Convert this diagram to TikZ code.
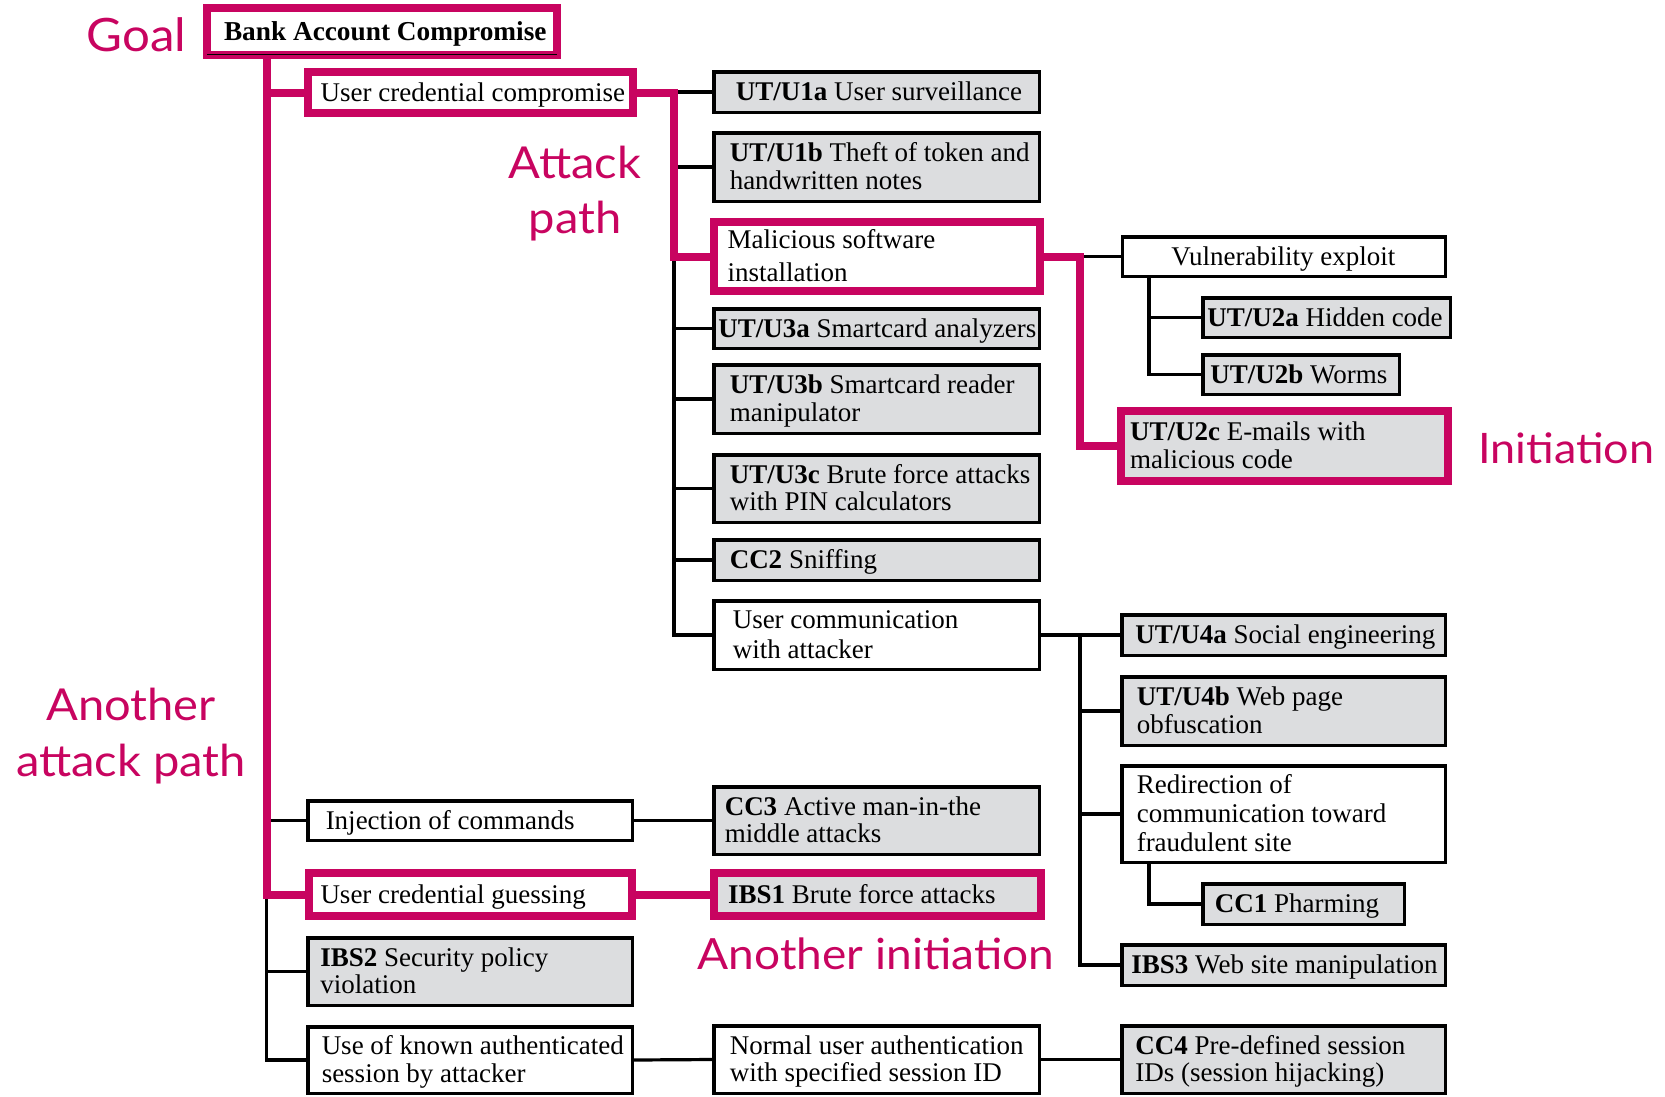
\documentclass[tikz,border=0pt]{standalone}
\usepackage{fontspec}
\setmainfont{Liberation Serif}
\newfontfamily\notefont[FakeStretch=1.07]{Lato}
\usetikzlibrary{calc}
\definecolor{hl}{RGB}{200,4,96}
\definecolor{boxgray}{RGB}{220,221,223}
% box text: width, left indent, lines
\newcommand{\bt}[3]{\makebox[#1][l]{\hspace*{#2}\raisebox{-3pt}[\height][\depth]{\begin{tabular}{@{}l@{}}#3\end{tabular}}}}
\begin{document}
\begin{tikzpicture}[x=1pt,y=-1pt,
  box/.style={draw=black, line width=3.5pt, fill=white, inner sep=0pt,
    font=\fontsize{27}{27.7}\selectfont},
  gbox/.style={box, fill=boxgray},
  hbox/.style={box, draw=hl, line width=8pt},
  hgbox/.style={hbox, fill=boxgray},
  wire/.style={line width=3.2pt, black},
  hwire/.style={line width=8pt, hl},
  note/.style={text=hl, inner sep=0pt, anchor=base}]
\useasboundingbox (0,0) rectangle (1665,1096);

% branch columns
\coordinate (t0) at (266.5,0);
\coordinate (c1) at (674,0);
\coordinate (c2) at (1080,0);
\coordinate (c3) at (1149,0);

% goal and first level
\node[hbox, minimum width=350pt, minimum height=47pt, font=\fontsize{27.3}{28}\selectfont] (bank) at (382,31.5)
  {\bt{350pt}{17pt}{\textbf{Bank Account Compromise}}};
\node[hbox, minimum width=325pt, minimum height=41pt] (ucc) at (470.5,92.5)
  {\bt{325pt}{12.7pt}{User credential compromise}};
\node[box, minimum width=324.5pt, minimum height=39.5pt] (inj) at (470,820.5)
  {\bt{324.5pt}{18pt}{Injection of commands}};
\node[hbox, minimum width=323.5pt, minimum height=43pt] (ucg) at (470.25,894.5)
  {\bt{323.5pt}{12pt}{User credential guessing}};
\node[gbox, minimum width=324.5pt, minimum height=67.5pt] (ibs2) at (470,971.5)
  {\bt{324.5pt}{12.7pt}{\textbf{IBS2} Security policy\\violation}};
\node[box, minimum width=324.5pt, minimum height=66.5pt] (usek) at (470,1060)
  {\bt{324.5pt}{14pt}{Use of known authenticated\\session by attacker}};

% second level
\node[gbox, minimum width=325.5pt, minimum height=40.5pt] (u1a) at (876.5,92)
  {\bt{325.5pt}{22pt}{\textbf{UT/U1a} User surveillance}};
\node[gbox, minimum width=325.5pt, minimum height=68.5pt] (u1b) at (876.5,167)
  {\bt{325.5pt}{16pt}{\textbf{UT/U1b} Theft of token and\\handwritten notes}};
\node[hbox, minimum width=325.5pt, minimum height=69pt] (mal) at (876.75,256.5)
  {\bt{325.5pt}{13.7pt}{Malicious software\\[6pt]installation}};
\node[gbox, minimum width=325.5pt, minimum height=39.5pt] (u3a) at (876.5,328.5)
  {\bt{325.5pt}{4.7pt}{\textbf{UT/U3a} Smartcard analyzers}};
\node[gbox, minimum width=325.5pt, minimum height=68.5pt] (u3b) at (876.5,399)
  {\bt{325.5pt}{16pt}{\textbf{UT/U3b} Smartcard reader\\manipulator}};
\node[gbox, minimum width=325.5pt, minimum height=67.5pt] (u3c) at (876.5,488.5)
  {\bt{325.5pt}{16pt}{\textbf{UT/U3c} Brute force attacks\\with PIN calculators}};
\node[gbox, minimum width=325.5pt, minimum height=40.5pt] (cc2) at (876.5,560)
  {\bt{325.5pt}{16pt}{\textbf{CC2} Sniffing}};
\node[box, minimum width=325.5pt, minimum height=68.5pt] (ucom) at (876.5,635)
  {\bt{325.5pt}{19pt}{User communication\\[2.5pt]with attacker}};
\node[gbox, minimum width=325.5pt, minimum height=67.5pt] (cc3) at (876.5,820.5)
  {\bt{325.5pt}{11pt}{\textbf{CC3} Active man-in-the\\middle attacks}};
\node[hgbox, minimum width=327pt, minimum height=43pt] (ibs1) at (877.5,894.5)
  {\bt{327pt}{14pt}{\textbf{IBS1} Brute force attacks}};
\node[box, minimum width=325.5pt, minimum height=67.5pt] (nua) at (876.5,1059.5)
  {\bt{325.5pt}{16pt}{Normal user authentication\\with specified session ID}};

% third level
\node[box, minimum width=323pt, minimum height=39.5pt] (vul) at (1283.75,256.5)
  {\bt{323pt}{49pt}{Vulnerability exploit}};
\node[gbox, minimum width=247.5pt, minimum height=39.5pt] (u2a) at (1326.5,317.5)
  {\bt{247.5pt}{4.5pt}{\textbf{UT/U2a} Hidden code}};
\node[gbox, minimum width=196.5pt, minimum height=39.5pt] (u2b) at (1301,374.5)
  {\bt{196.5pt}{7.5pt}{\textbf{UT/U2b} Worms}};
\node[hgbox, minimum width=327pt, minimum height=70pt] (u2c) at (1284.5,446)
  {\bt{327pt}{9pt}{\textbf{UT/U2c} E-mails with\\malicious code}};
\node[gbox, minimum width=323.5pt, minimum height=40.5pt] (u4a) at (1283.5,635)
  {\bt{323.5pt}{13.6pt}{\textbf{UT/U4a} Social engineering}};
\node[gbox, minimum width=323.5pt, minimum height=68.5pt] (u4b) at (1283.5,711)
  {\bt{323.5pt}{15pt}{\textbf{UT/U4b} Web page\\obfuscation}};
\node[box, minimum width=323.5pt, minimum height=96.5pt] (redir) at (1283.5,814)
  {\bt{323.5pt}{15pt}{Redirection of\\[1.5pt]communication toward\\[1.5pt]fraudulent site}};
\node[gbox, minimum width=201.5pt, minimum height=40.5pt] (cc1) at (1303.5,904)
  {\bt{201.5pt}{12pt}{\textbf{CC1} Pharming}};
\node[gbox, minimum width=323.5pt, minimum height=40.5pt] (ibs3) at (1283.5,965)
  {\bt{323.5pt}{9.7pt}{\textbf{IBS3} Web site manipulation}};
\node[gbox, minimum width=323.5pt, minimum height=67.5pt] (cc4) at (1283.5,1059.5)
  {\bt{323.5pt}{13.6pt}{\textbf{CC4} Pre-defined session\\IDs (session hijacking)}};

% dark rule along the inner bottom edge of the goal box
\draw[line width=1.3pt] ($(bank.south west)+(4.2,-4.6)$) -- ($(bank.south east)+(-4.2,-4.6)$);

% black tree connectors
\draw[wire] (ucg.west -| t0) |- (usek.west);
\draw[wire] (inj.west -| t0) -- (inj.west);
\draw[wire] (ibs2.west -| t0) -- (ibs2.west);
\draw[wire] (mal.west -| c1) |- (ucom.west);
\draw[wire] (u1a.west -| c1) -- (u1a.west);
\draw[wire] (u1b.west -| c1) -- (u1b.west);
\draw[wire] (u3a.west -| c1) -- (u3a.west);
\draw[wire] (u3b.west -| c1) -- (u3b.west);
\draw[wire] (u3c.west -| c1) -- (u3c.west);
\draw[wire] (cc2.west -| c1) -- (cc2.west);
\draw[wire] (mal.east -| c2) -- (vul.west);
\draw[wire] (vul.south -| c3) |- (u2b.west);
\draw[wire] (u2a.west -| c3) -- (u2a.west);
\draw[wire] (ucom.east) -- (u4a.west);
\draw[wire] (ucom.east -| c2) |- (ibs3.west);
\draw[wire] (u4b.west -| c2) -- (u4b.west);
\draw[wire] (redir.west -| c2) -- (redir.west);
\draw[wire] (redir.south -| c3) |- (cc1.west);
\draw[wire] (inj.east) -- (cc3.west);
\draw[wire] (usek.east) -- (nua.west);
\draw[wire] (nua.east) -- (cc4.west);

% highlighted attack paths
\draw[hwire] (bank.south -| t0) |- (ucg.west);
\draw[hwire] (ucc.west -| t0) -- (ucc.west);
\draw[hwire] (ucc.east) -| (c1 |- mal.west) -- (mal.west);
\draw[hwire] (mal.east) -| (c2 |- u2c.west) -- (u2c.west);
\draw[hwire] (ucg.east) -- (ibs1.west);

% annotations
\node[note, font=\notefont\fontsize{46}{50}\selectfont] (goal) at (136.5,51.7) {Goal};
\node[note, font=\notefont\fontsize{44}{50}\selectfont] (atk1) at (575,178) {Attack};
\node[note, font=\notefont\fontsize{44}{50}\selectfont] (atk2) at (575,233) {path};
\node[note, font=\notefont\fontsize{44}{50}\selectfont] (oth1) at (131,720) {Another};
\node[note, font=\notefont\fontsize{44}{50}\selectfont] (oth2) at (131,776) {attack path};
\node[note, font=\notefont\fontsize{42}{50}\selectfont] (init) at (1566.5,463.3) {Initiation};
\node[note, font=\notefont\fontsize{43}{50}\selectfont] (init2) at (876,969) {Another initiation};
\end{tikzpicture}
\end{document}
